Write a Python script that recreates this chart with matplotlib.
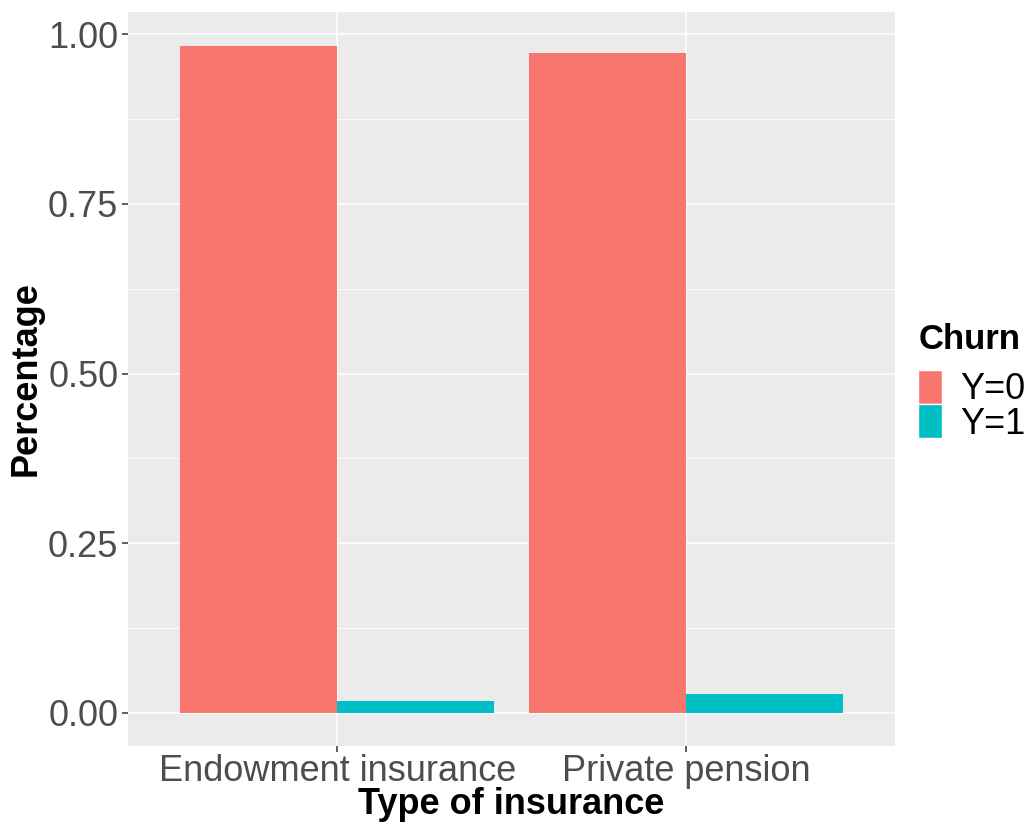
import numpy as np
import matplotlib
matplotlib.use("Agg")
import matplotlib.pyplot as plt
from matplotlib.patches import Patch

plt.rcParams['font.family'] = ['Liberation Sans', 'DejaVu Sans']

# data
categories = ["Endowment insurance", "Private pension"]
churn_labels = ["Y=0", "Y=1"]
share_y0 = [0.983, 0.973]
share_y1 = [0.017, 0.027]
colors = ["#F8766D", "#00BFC4"]

fig = plt.figure(figsize=(10.29, 8.25), dpi=100)
ax = fig.add_axes([128 / 1029, 79 / 825, 767 / 1029, 734 / 825])
ax.set_facecolor("#EBEBEB")

x = np.arange(1, len(categories) + 1)
w = 0.45
ax.bar(x - w / 2, share_y0, width=w, color=colors[0], zorder=3)
ax.bar(x + w / 2, share_y1, width=w, color=colors[1], zorder=3)

ax.set_xlim(0.4, 2.6)
ax.set_ylim(-0.049, 1.033)
ax.set_xticks(x)
ax.set_xticklabels(categories)
ax.set_yticks([0, 0.25, 0.5, 0.75, 1.0])
ax.set_yticklabels(["0.00", "0.25", "0.50", "0.75", "1.00"])
ax.set_yticks([0.125, 0.375, 0.625, 0.875], minor=True)

ax.grid(which="major", color="white", linewidth=1.1, zorder=0)
ax.grid(which="minor", axis="y", color="white", linewidth=0.55, zorder=0)
ax.set_axisbelow(True)
for s in ax.spines.values():
    s.set_visible(False)

ax.tick_params(axis="both", which="major", labelsize=26, labelcolor="#4D4D4D",
               color="#333333", length=4, width=1.1, pad=3)
ax.tick_params(axis="x", which="major", pad=1.5)
ax.tick_params(axis="both", which="minor", length=0)

ax.set_xlabel("Type of insurance", fontsize=26, fontweight="bold", labelpad=-1)
ax.set_ylabel("Percentage", fontsize=26, fontweight="bold", labelpad=3)

# legend: title as its own text, keys below it
fig.text(919 / 1029, 1 - 349 / 825, "Churn", fontsize=25, fontweight="bold",
         ha="left", va="baseline")
handles = [Patch(facecolor=c, edgecolor="white", linewidth=1.0) for c in colors]
leg = fig.legend(handles, churn_labels, loc="upper left",
                 bbox_to_anchor=(918 / 1029, 1 - 370 / 825), frameon=False,
                 fontsize=26, handlelength=0.665, handleheight=1.07,
                 labelspacing=-0.08, handletextpad=0.5, borderpad=0,
                 borderaxespad=0)

fig.savefig("out.png", dpi=100)
